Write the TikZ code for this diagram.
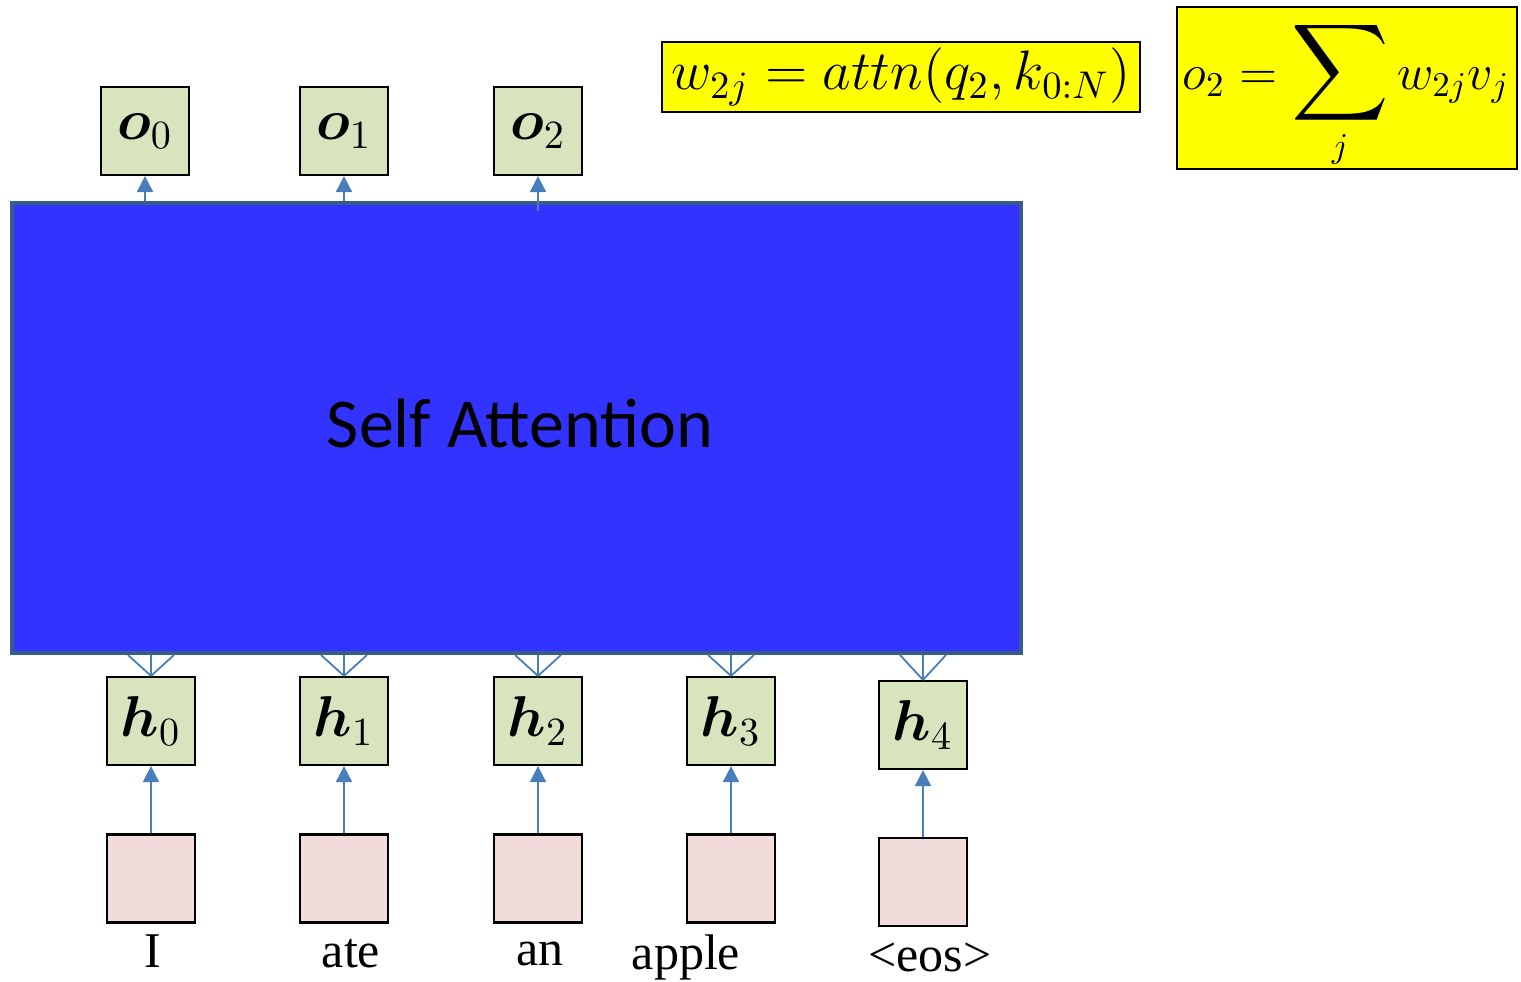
\documentclass[tikz,border=0pt]{standalone}
\usepackage{amsmath,bm}
\usepackage{fontspec}
\setsansfont{Carlito}
\newfontfamily\tnr{Liberation Serif}
\usetikzlibrary{arrows.meta}
\definecolor{hgreen}{RGB}{215,228,189}
\definecolor{inpink}{RGB}{242,220,219}
\definecolor{arrblue}{RGB}{74,126,187}
\definecolor{safill}{RGB}{51,51,255}
\definecolor{saborder}{RGB}{56,93,138}
\definecolor{eqyellow}{RGB}{255,255,0}
\begin{document}
\begin{tikzpicture}[x=0.25pt,y=-0.25pt,
  vec/.style={draw=black,line width=0.55pt,fill=hgreen,minimum size=22pt,inner sep=0pt,
    font=\Large},
  inbox/.style={draw=black,line width=0.55pt,fill=inpink,minimum size=22pt,inner sep=0pt},
  arr/.style={draw=arrblue,line width=0.45pt,-{Triangle[width=4pt,length=4pt]}},
  fan/.style={draw=arrblue,line width=0.45pt},
  word/.style={font=\tnr\fontsize{12.5}{14}\selectfont,inner sep=0pt},
  eqbox/.style={draw=black,line width=0.5pt,fill=eqyellow,inner sep=0pt}]
\useasboundingbox (0,0) rectangle (1521,982);
% self attention block
\node[draw=saborder,fill=safill,line width=1pt,minimum width=252.25pt,minimum height=112.5pt,inner sep=0pt] (sa) at (516.5,428) {};
\node[font=\sffamily\fontsize{17.5}{20}\selectfont,inner sep=0pt] (salabel) at (520,423) {Self Attention};
% outputs
\node[vec] (o0) at (145,131) {\(\bm{o}_0\)};
\node[vec] (o1) at (344,131) {\(\bm{o}_1\)};
\node[vec] (o2) at (538,131) {\(\bm{o}_2\)};
% hidden
\node[vec] (h0) at (151,721) {\(\bm{h}_0\)};
\node[vec] (h1) at (344,721) {\(\bm{h}_1\)};
\node[vec] (h2) at (538,721) {\(\bm{h}_2\)};
\node[vec] (h3) at (731,721) {\(\bm{h}_3\)};
\node[vec] (h4) at (923,725) {\(\bm{h}_4\)};
% inputs
\node[inbox] (x0) at (151,878.5) {};
\node[inbox] (x1) at (344,878.5) {};
\node[inbox] (x2) at (538,878.5) {};
\node[inbox] (x3) at (731,878.5) {};
\node[inbox] (x4) at (923,882) {};
% words
\node[word] (w0) at (153,951) {I};
\node[word] (w1) at (351,954) {ate};
\node[word] (w2) at (540,954) {an};
\node[word] (w3) at (686,957) {apple};
\node[word] (w4) at (930,957) {<eos>};
% input arrows
\foreach \i in {0,...,4} {
  \draw[arr] (x\i.north) -- (h\i.south);
  \draw[fan] (h\i.north) -- (h\i.north |- sa.south);
  \draw[fan] (h\i.north) -- ([xshift=-5.75pt]h\i.north |- sa.south);
  \draw[fan] (h\i.north) -- ([xshift=5.75pt]h\i.north |- sa.south);
}
% output arrows
\draw[arr] (o0.south |- sa.north) -- (o0.south);
\draw[arr] (o1.south |- sa.north) -- (o1.south);
\draw[arr] ([yshift=-2.5pt]o2.south |- sa.north) -- (o2.south);
% equations
\node[eqbox,minimum width=119.5pt,minimum height=17.5pt] (eq1) at (901,77) {};
\node[inner sep=0pt,font=\Large] (eq1txt) at (eq1) {\scalebox{0.965}{\(w_{2j} = attn(q_2,k_{0:N})\)}};
\node[eqbox,minimum width=85pt,minimum height=40.5pt] (eq2) at (1347,88) {};
\node[inner sep=0pt,font=\Large] (eq2txt) at (1346,94) {\scalebox{0.87}{\(\displaystyle o_2 = \mathop{\scalebox{1.35}{$\displaystyle\sum$}}_j w_{2j}v_j\)}};
\end{tikzpicture}
\end{document}
